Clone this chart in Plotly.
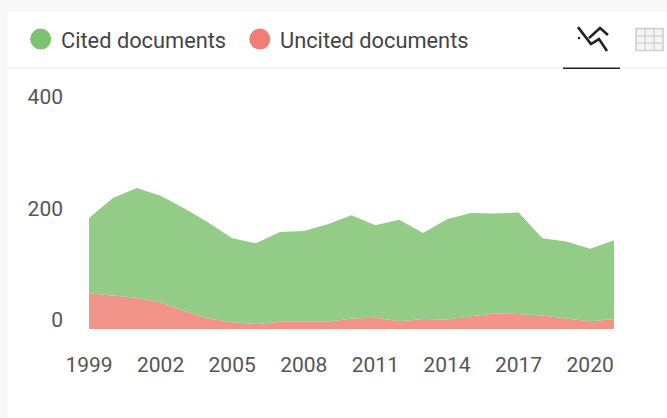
import plotly.graph_objects as go

years = list(range(1999, 2022))
uncited = [64, 60, 56, 48, 32, 19, 12, 9, 13, 13, 13, 19, 20, 14, 18, 17, 23, 28, 27, 24, 19, 14, 18]
cited = [135, 175, 197, 191, 184, 172, 151, 145, 161, 163, 175, 185, 166, 182, 154, 180, 185, 179, 182, 139, 138, 130, 141]
series_names = ["Cited documents", "Uncited documents"]
y_ticks = [0, 200, 400]
x_ticks = list(range(1999, 2021, 3))

W, H = 667, 418
L, R, T, B = 89.3, 614, 106, 329.3
FONT = "Roboto"
TXT = "#555555"


def px(x):
    return (x - L) / (R - L)


def py(y):
    return (B - y) / (B - T)


def rect(x0, y0, x1, y1, color, layer="below"):
    return dict(type="rect", xref="paper", yref="paper", x0=px(x0), x1=px(x1), y0=py(y0), y1=py(y1),
                fillcolor=color, line_width=0, layer=layer)


def circle(cx, cy, r, color):
    return dict(type="circle", xref="paper", yref="paper", x0=px(cx - r), x1=px(cx + r), y0=py(cy - r), y1=py(cy + r),
                fillcolor=color, line_width=0)


def poly(points, color, width):
    d = "M " + " L ".join(f"{px(x):.5f},{py(y):.5f}" for x, y in points)
    return dict(type="path", xref="paper", yref="paper", path=d, line=dict(color=color, width=width))


fig = go.Figure()
fig.add_trace(go.Scatter(x=years, y=uncited, name=series_names[1], stackgroup="a", mode="none",
                         fillcolor="#F19389", showlegend=False))
fig.add_trace(go.Scatter(x=years, y=cited, name=series_names[0], stackgroup="a", mode="none",
                         fillcolor="#93CC87", showlegend=False))

shapes = [
    rect(8, 12, 667, 418, "#FFFFFF"),
    rect(8, 67.5, 667, 69, "#F3F3F3"),
    rect(563, 67.5, 620, 69, "#222222", "above"),
    circle(41, 39, 10.5, "#7BC46F"),
    circle(260, 39, 10.5, "#F27D74"),
    poly([(578, 27), (591, 44), (599, 39), (607, 51)], "#222222", 2.6),
    poly([(578, 38), (580, 38)], "#222222", 2.2),
    poly([(589, 38), (600, 28), (608, 35)], "#222222", 2.6),
    dict(type="rect", xref="paper", yref="paper", x0=px(636), x1=px(663), y0=py(28.5), y1=py(50.5),
         line=dict(color="#CFCFCF", width=1.6), fillcolor="#F4F4F4"),
]
for gx in (645, 654):
    shapes.append(poly([(gx, 28.5), (gx, 50.5)], "#D2D2D2", 1.3))
for gy in (36, 43):
    shapes.append(poly([(636, gy), (663, gy)], "#D2D2D2", 1.3))

annotations = [
    dict(text=series_names[0], x=px(59.5), y=py(40), xref="paper", yref="paper", xanchor="left", yanchor="middle",
         showarrow=False, font=dict(family=FONT, size=21.8, color="#444444")),
    dict(text=series_names[1], x=px(278.5), y=py(40), xref="paper", yref="paper", xanchor="left", yanchor="middle",
         showarrow=False, font=dict(family=FONT, size=21.8, color="#444444")),
]

fig.update_layout(
    width=W, height=H,
    margin=dict(l=L, r=W - R, t=T, b=H - B, pad=0),
    paper_bgcolor="#F8F8F8", plot_bgcolor="rgba(0,0,0,0)",
    font=dict(family=FONT, size=21, color=TXT),
    showlegend=False, shapes=shapes, annotations=annotations,
    xaxis=dict(range=[1999, 2021], tickmode="array", tickvals=x_ticks, ticktext=[str(v) for v in x_ticks],
               showgrid=False, zeroline=False, showline=False, ticks="outside", ticklen=17,
               tickcolor="rgba(0,0,0,0)", automargin=False,
               tickfont=dict(family=FONT, size=21, color=TXT)),
    yaxis=dict(range=[0, 400], tickmode="array", tickvals=y_ticks, ticktext=[str(v) for v in y_ticks],
               showgrid=False, zeroline=False, showline=False, ticks="", automargin=False,
               ticklabelstandoff=25, ticklabelshift=-9,
               tickfont=dict(family=FONT, size=21, color=TXT)),
)
fig.write_html("out.html", config=dict(displayModeBar=False),
               post_script="document.body.style.margin='0';document.body.style.background='#F8F8F8';")
